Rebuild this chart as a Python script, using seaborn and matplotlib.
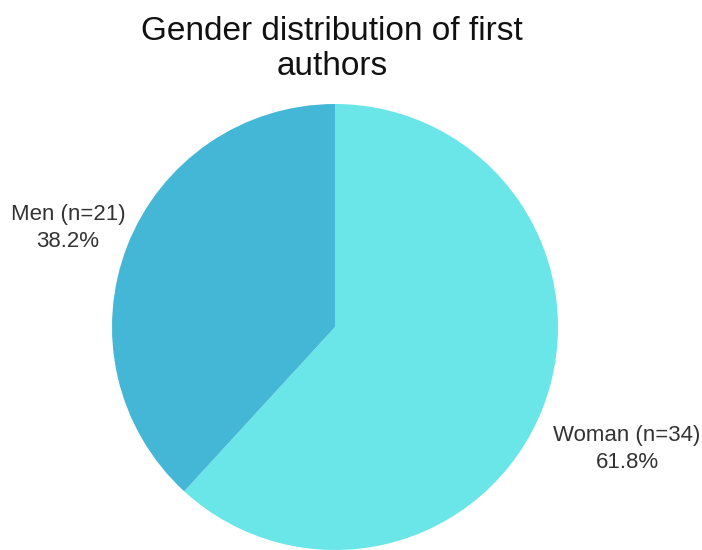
import matplotlib
matplotlib.use("Agg")
import matplotlib.pyplot as plt
import seaborn as sns

sns.set_theme(style="white")
plt.rcParams['font.family'] = ['Liberation Sans', 'DejaVu Sans']

categories = ["Woman", "Men"]
counts = [34, 21]
colors = ["#6ae5e8", "#43b7d5"]

fig = plt.figure(figsize=(7.02, 5.5), dpi=100)
ax = fig.add_axes([0, 0, 1, 1])

total = sum(counts)
ax.pie(counts, colors=colors, startangle=90, counterclock=False,
       center=(335, 223), radius=223, frame=True,
       wedgeprops=dict(linewidth=0))

ax.set_xlim(0, 702)
ax.set_ylim(0, 550)
ax.set_aspect('equal')
ax.axis('off')

# slice labels with counts and shares
label_pos = {"Men": (68, 550 - 228), "Woman": (627, 550 - 449)}
for cat, n in zip(categories, counts):
    x, y = label_pos[cat]
    ax.text(x, y, f"{cat} (n={n})\n{100 * n / total:.1f}%", ha="center", va="center",
            fontsize=16, color="#333333", linespacing=1.4)

ax.text(332, 550 - 49, "Gender distribution of first\nauthors", ha="center", va="center",
        fontsize=24, color="#111111", linespacing=1.15)

fig.savefig("out.png", dpi=100)
